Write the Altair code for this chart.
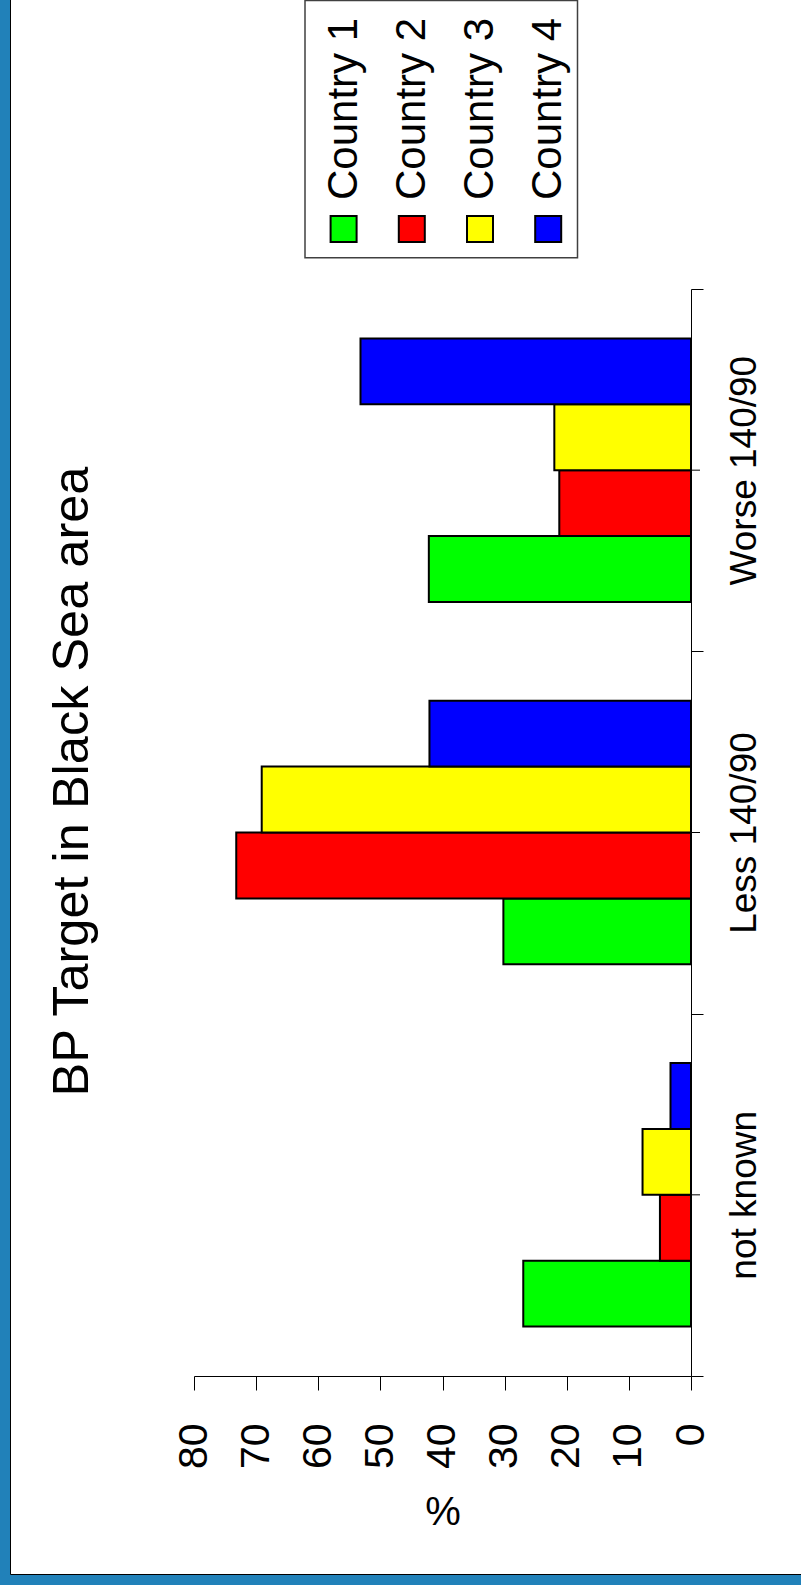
import altair as alt
import pandas as pd

# --- data -------------------------------------------------------------
title_text = "BP Target in Black Sea area"
categories = ["not known", "Less 140/90", "Worse 140/90"]
countries = ["Country 1", "Country 2", "Country 3", "Country 4"]
colors = ["#00ff00", "#ff0000", "#ffff00", "#0000ff"]

country1 = [27.0, 30.2, 42.2]
country2 = [5.0, 73.2, 21.2]
country3 = [7.8, 69.1, 22.0]
country4 = [3.3, 42.1, 53.2]

value_ticks = [0, 10, 20, 30, 40, 50, 60, 70, 80]

rows = []
for name, vals in zip(countries, [country1, country2, country3, country4]):
    for cat, v in zip(categories, vals):
        rows.append({"category": cat, "country": name, "value": v})
df = pd.DataFrame(rows)
legend_df = pd.DataFrame({"country": countries})
cat_df = pd.DataFrame({"category": categories})

# --- layout -----------------------------------------------------------
W, H = 497, 1087
PAD = {"left": 194, "top": 289, "right": 110, "bottom": 209}
FONT = "Liberation Sans"
BORDER = "#2181b9"

# legend columns: 68 px apart, centred a little right of the plot centre
LEG_STEP = 68.2
LEG_MID = W / 2 + 3.4
legend_range = [LEG_MID - 2 * LEG_STEP, LEG_MID + 2 * LEG_STEP]

cats_top_down = categories[::-1]
countries_top_down = countries[::-1]
color_scale = alt.Scale(domain=countries, range=colors)
one_row = alt.Data(values=[{}])

# white page with the blue frame showing on the left and bottom
page = alt.Chart(one_row).mark_rect(fill="white", stroke="black", strokeWidth=1).encode(
    x=alt.value(-183.5), x2=alt.value(W + 200),
    y=alt.value(-400), y2=alt.value(1574.5 - PAD["top"]),
)

bars = alt.Chart(df).mark_bar(stroke="black", strokeWidth=2).encode(
    y=alt.Y(
        "category:N", sort=cats_top_down,
        scale=alt.Scale(paddingInner=0, paddingOuter=0),
        axis=alt.Axis(
            orient="right", title=None, tickBand="extent", tickSize=12,
            tickColor="black", domainColor="black", labelAngle=270,
            labelAlign="center", labelBaseline="top", labelPadding=23,
            labelFontSize=37, labelFont=FONT, labelColor="black", labelLimit=0,
            zindex=1,
        ),
    ),
    yOffset=alt.YOffset(
        "country:N", sort=countries_top_down,
        scale=alt.Scale(paddingInner=0, paddingOuter=0.75),
    ),
    x=alt.X(
        "value:Q",
        scale=alt.Scale(domain=[0, 80], reverse=True, nice=False),
        axis=alt.Axis(
            orient="bottom", values=value_ticks, grid=False, tickSize=14,
            tickColor="black", domainColor="black", labelAngle=270,
            labelAlign="right", labelBaseline="middle", labelPadding=33,
            labelFontSize=41, labelFont=FONT, labelColor="black",
            labelFlush=False, labelOverlap=False,
            title="%", titleAngle=0, titleFontSize=40, titleFont=FONT,
            titleFontWeight="normal", titleColor="black", titlePadding=24,
            zindex=1,
        ),
    ),
    color=alt.Color("country:N", scale=color_scale, legend=None),
)

# short ticks at the middle of each category band
mid_ticks = alt.Chart(cat_df).mark_rule(color="black", strokeWidth=1).encode(
    y=alt.Y("category:N", sort=cats_top_down),
    x=alt.value(W), x2=alt.value(W + 9),
)

# legend: framed box, coloured squares and rotated labels
legend_x = alt.X(
    "country:N", sort=countries, axis=None,
    scale=alt.Scale(type="band", paddingInner=0, paddingOuter=0, range=legend_range),
)
legend_box = alt.Chart(one_row).mark_rect(fill="white", stroke="#404040", strokeWidth=1.5).encode(
    x=alt.value(111), x2=alt.value(383.5),
    y=alt.value(-PAD["top"] + 0.5), y2=alt.value(257.7 - PAD["top"]),
)
legend_swatch = alt.Chart(legend_df).mark_square(
    size=676, opacity=1, stroke="black", strokeWidth=2
).encode(
    x=legend_x, y=alt.value(229 - PAD["top"]),
    color=alt.Color("country:N", scale=color_scale, legend=None),
)
legend_text = alt.Chart(legend_df).mark_text(
    angle=270, align="left", baseline="middle", fontSize=42, font=FONT, color="black"
).encode(
    x=legend_x, y=alt.value(200 - PAD["top"]), text="country:N",
)

title = alt.Chart(one_row).mark_text(
    text=title_text, angle=270, align="center", baseline="alphabetic",
    fontSize=50.5, font=FONT, color="black",
).encode(
    x=alt.value(87.5 - PAD["left"]), y=alt.value(781.5 - PAD["top"]),
)

chart = (
    alt.layer(page, bars, mid_ticks, legend_box, legend_swatch, legend_text, title)
    .resolve_scale(x="independent")
    .properties(
        width=W, height=H, padding=PAD, autosize=alt.AutoSizeParams(type="none"),
        background=BORDER,
    )
    .configure_view(stroke=None)
    .configure(font=FONT)
)

chart.save("out.html", embed_options={"renderer": "svg", "actions": False})
